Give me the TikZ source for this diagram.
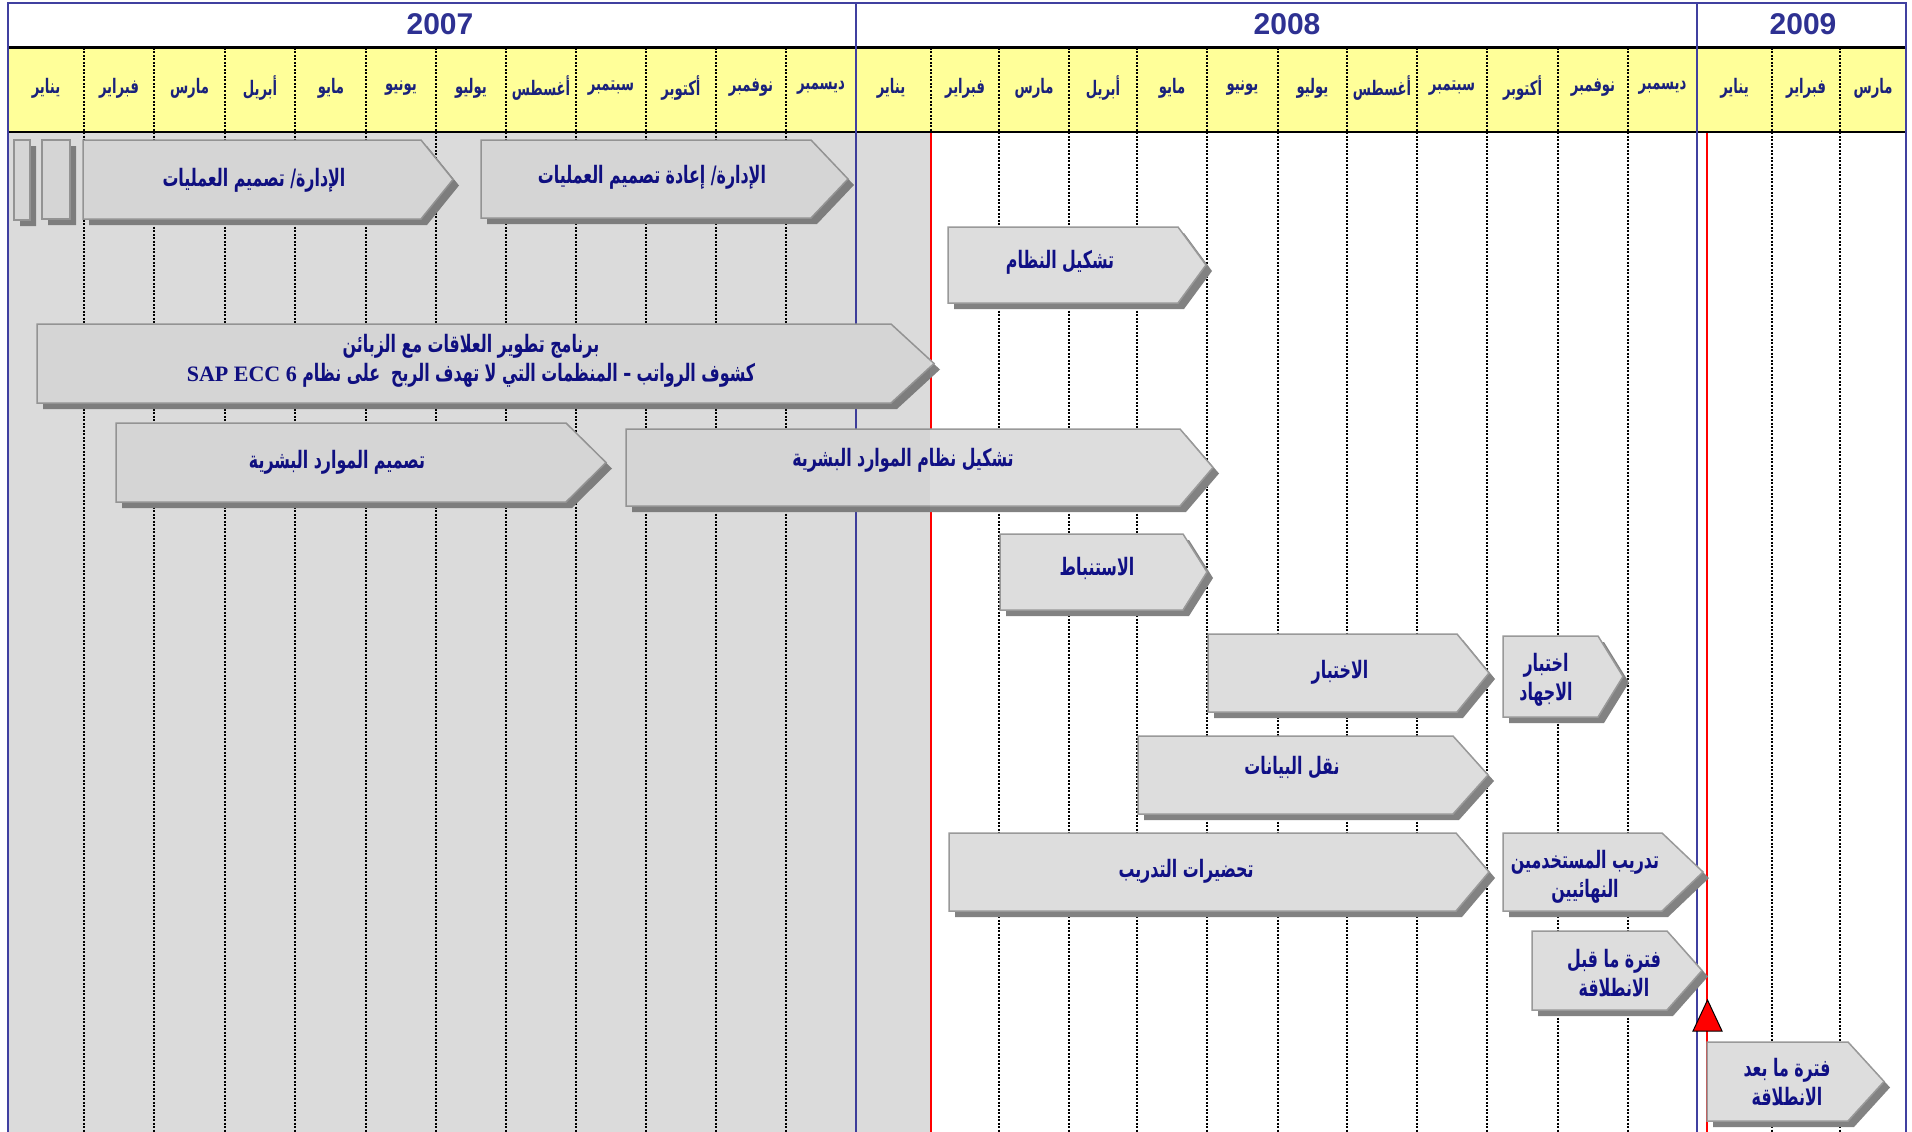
\documentclass[tikz,border=0pt]{standalone}
\usepackage{fontspec}
\newfontfamily\arfont[Script=Arabic, FakeStretch=0.66]{DejaVu Sans}
\newfontfamily\yrfont{Liberation Sans}
\newfontfamily\sapfont{Liberation Serif}
\TeXXeTstate=1
\definecolor{navytxt}{HTML}{101085}
\definecolor{monthtxt}{HTML}{1A227C}
\definecolor{yeartxt}{HTML}{2E3192}
\definecolor{frameblue}{HTML}{4040A0}
\definecolor{hdryellow}{HTML}{FFFF99}
\definecolor{graybg}{HTML}{E4E4E4}
\definecolor{barfill}{HTML}{DDDDDD}
\definecolor{bardraw}{HTML}{999999}
\definecolor{shadowc}{HTML}{828282}
\newcommand\AR[1]{\beginR #1\endR}
\newcommand\gbar[5]{%
  \fill[shadowc, shift={(6,6)}] (#1,#2) -- (#3,#2) -- (#4,{(#2+#5)/2}) -- (#3,#5) -- (#1,#5) -- cycle;
  \filldraw[barstyle] (#1,#2) -- (#3,#2) -- (#4,{(#2+#5)/2}) -- (#3,#5) -- (#1,#5) -- cycle;
}
\tikzset{
  barstyle/.style={fill=barfill, draw=bardraw, line width=1.5pt, line join=miter},
  bartext/.style={text=navytxt, font=\arfont\bfseries\fontsize{24}{29}\selectfont, align=center, inner sep=0pt},
  monthlbl/.style={text=monthtxt, font=\arfont\bfseries\fontsize{20}{24}\selectfont, inner sep=0pt},
  yearlbl/.style={text=yeartxt, font=\yrfont\bfseries\fontsize{30}{34}\selectfont, inner sep=0pt},
  gridline/.style={black, line width=1.3pt, dash pattern=on 2pt off 1.5pt},
  yearline/.style={frameblue, line width=2pt},
  redline/.style={red, line width=2.5pt},
}
\begin{document}
\begin{tikzpicture}[x=1pt, y=-1pt]
\useasboundingbox (0,0) rectangle (1912,1132);
\fill[white] (0,0) rectangle (1912,1132);
% header
\fill[hdryellow] (8,48) rectangle (1906,132);
\fill[graybg] (8,132) rectangle (931,1132);
% grid
\foreach \x in {84,154,225,295,366,436,506,576,646,716,786,931,999,1069,1137,1207,1278,1347,1417,1487,1558,1628,1772,1840}
  \draw[gridline] (\x,48) -- (\x,1132);
\draw[black, line width=3pt] (8,48) -- (1906,48);
\draw[black, line width=2pt] (8,132) -- (1906,132);
\draw[yearline] (856,3) -- (856,1132);
\draw[yearline] (1697,3) -- (1697,1132);
\draw[frameblue, line width=2.5pt] (8,1132) -- (8,3) -- (1906,3) -- (1906,1132);
\draw[redline] (931,133) -- (931,1132);
\draw[redline] (1707,133) -- (1707,1132);
% years
\node[yearlbl] (y2007) at (440,24) {2007};
\node[yearlbl] (y2008) at (1287,24) {2008};
\node[yearlbl] (y2009) at (1803,24) {2009};
% months
\foreach \cx/\m [count=\i] in {46/يناير,119/فبراير,189.5/مارس,260/أبريل,331/مايو,401/يونيو,471/يوليو,541/أغسطس,611/سبتمبر,681/أكتوبر,751/نوفمبر,821/ديسمبر,891/يناير,965/فبراير,1034/مارس,1103/أبريل,1172/مايو,1242.5/يونيو,1312.5/يوليو,1382/أغسطس,1452/سبتمبر,1522.5/أكتوبر,1593/نوفمبر,1662.5/ديسمبر,1734.5/يناير,1806/فبراير,1873/مارس}
  \node[monthlbl] (m\i) at (\cx,88) {\AR{\m}};
% bars
\gbar{14}{140}{30}{30}{220}
\gbar{42}{140}{70}{70}{219}
\gbar{83}{140}{421}{453}{219}
\gbar{481}{140}{811}{848}{218}
\gbar{948}{227}{1178}{1206}{303}
\gbar{37}{324}{891}{934}{403}
\gbar{116}{423}{566}{606}{502}
\gbar{626}{429}{1180}{1213}{506}
\gbar{1000}{534}{1183}{1207}{610}
\gbar{1208}{634}{1457}{1489}{712}
\gbar{1503}{636}{1598}{1623}{717}
\gbar{1138}{736}{1453}{1488}{814}
\gbar{949}{833}{1456}{1489}{911}
\gbar{1503}{833}{1662}{1703}{911}
\gbar{1532}{931}{1667}{1702}{1010}
\gbar{1707}{1042}{1848}{1884}{1121}
% launch marker
\coordinate (apex) at (1707.5,1000);
\filldraw[fill=red, draw=black, line width=1pt] (apex) -- (1722,1031) -- (1693,1031) -- cycle;
% bar texts
\node[bartext] (t1) at (254,180) {\AR{الإدارة/ تصميم العمليات}};
\node[bartext] (t2) at (652,177) {\AR{الإدارة/ إعادة تصميم العمليات}};
\node[bartext] (t3) at (1060,262) {\AR{تشكيل النظام}};
\node[bartext] (t4a) at (471,346) {\AR{برنامج تطوير العلاقات مع الزبائن}};
\node[bartext] (t4b) at (471,375) {\AR{كشوف الرواتب – المنظمات التي لا تهدف الربح\ \ على نظام \beginL{\sapfont\fontsize{22}{26}\selectfont SAP ECC 6}\endL}};
\node[bartext] (t5) at (337,462) {\AR{تصميم الموارد البشرية}};
\node[bartext] (t6) at (903,460) {\AR{تشكيل نظام الموارد البشرية}};
\node[bartext] (t7) at (1097,568) {\AR{الاستنباط}};
\node[bartext] (t8) at (1340,672) {\AR{الاختبار}};
\node[bartext] (t9) at (1546,680) {\AR{اختبار}\\\AR{الاجهاد}};
\node[bartext] (t10) at (1292,768) {\AR{نقل البيانات}};
\node[bartext] (t11) at (1186,871) {\AR{تحضيرات التدريب}};
\node[bartext] (t12) at (1585,877) {\AR{تدريب المستخدمين}\\\AR{النهائيين}};
\node[bartext] (t13) at (1614,973) {\AR{فترة ما قبل}\\\AR{الانطلاقة}};
\node[bartext] (t14) at (1787,1082) {\AR{فترة ما بعد}\\\AR{الانطلاقة}};
% shading over the elapsed period
\fill[black, opacity=0.035] (9,133) rectangle (930,1132);
\end{tikzpicture}
\end{document}
